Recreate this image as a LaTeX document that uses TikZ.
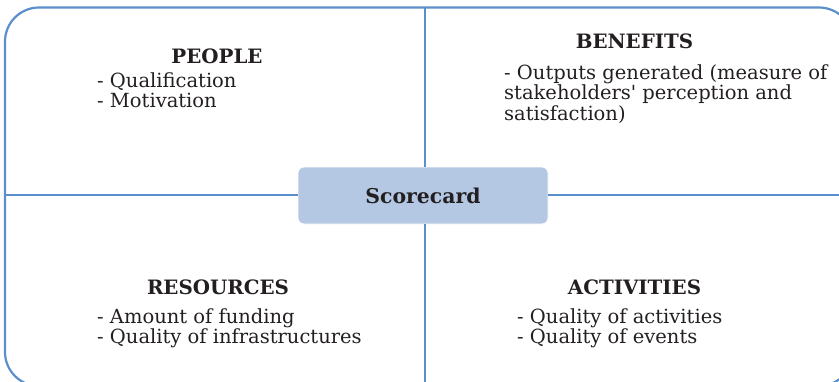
\documentclass[tikz,border=0pt]{standalone}
\usepackage{fontspec}
\setmainfont{DejaVu Serif}
\definecolor{frameblue}{RGB}{91,143,203}
\definecolor{boxfill}{RGB}{180,200,228}
\definecolor{txt}{RGB}{35,31,32}
\tikzset{
  frameline/.style={draw=frameblue, line width=2.2pt},
  head/.style={anchor=base, inner sep=0, text=txt, font=\fontsize{19.8}{20}\selectfont\bfseries},
  items/.style={anchor=base west, inner sep=0, text=txt, font=\fontsize{19.5}{20.5}\selectfont},
  centre/.style={draw=white, line width=0.8pt, fill=boxfill, rounded corners=6pt,
    minimum width=250pt, minimum height=57pt, inner sep=0, text=txt,
    font=\fontsize{20.4}{20}\selectfont\bfseries}
}
\begin{document}
\begin{tikzpicture}[x=1pt, y=-1pt]
\useasboundingbox (0,0) rectangle (839,381);
% outer frame
\coordinate (tl) at (5,7.5);
\coordinate (br) at (853,386);
\draw[frameline, rounded corners=34pt] (tl) rectangle (br);
\coordinate (topmid) at (425,7.5);
\coordinate (botmid) at (425,386);
\coordinate (leftmid) at (5,195);
\coordinate (rightmid) at (853,195);
% centre box
\node[centre] (sc) at (423,195.5) {Scorecard};
% cross lines
\draw[frameline] (sc.north -| topmid) -- (topmid);
\draw[frameline] (sc.south -| botmid) -- (botmid);
\draw[frameline] (sc.west |- leftmid) -- (leftmid);
\draw[frameline] (sc.east |- rightmid) -- (rightmid);
% quadrant texts
\node[head] (people) at (217,63) {PEOPLE};
\node[items] (peoplei) at (97,87) {\begin{tabular}[t]{@{}l@{}}- Qualification\\- Motivation\end{tabular}};
\node[head] (benefits) at (634.5,48) {BENEFITS};
\node[items] (benefitsi) at (504,79) {\begin{tabular}[t]{@{}l@{}}- Outputs generated (measure of\\stakeholders\textquotesingle{} perception and\\satisfaction)\end{tabular}};
\node[head] (resources) at (218,294) {RESOURCES};
\node[items] (resourcesi) at (97,323) {\begin{tabular}[t]{@{}l@{}}- Amount of funding\\- Quality of infrastructures\end{tabular}};
\node[head] (activities) at (634.5,294) {ACTIVITIES};
\node[items] (activitiesi) at (517,323) {\begin{tabular}[t]{@{}l@{}}- Quality of activities\\- Quality of events\end{tabular}};
\end{tikzpicture}
\end{document}
